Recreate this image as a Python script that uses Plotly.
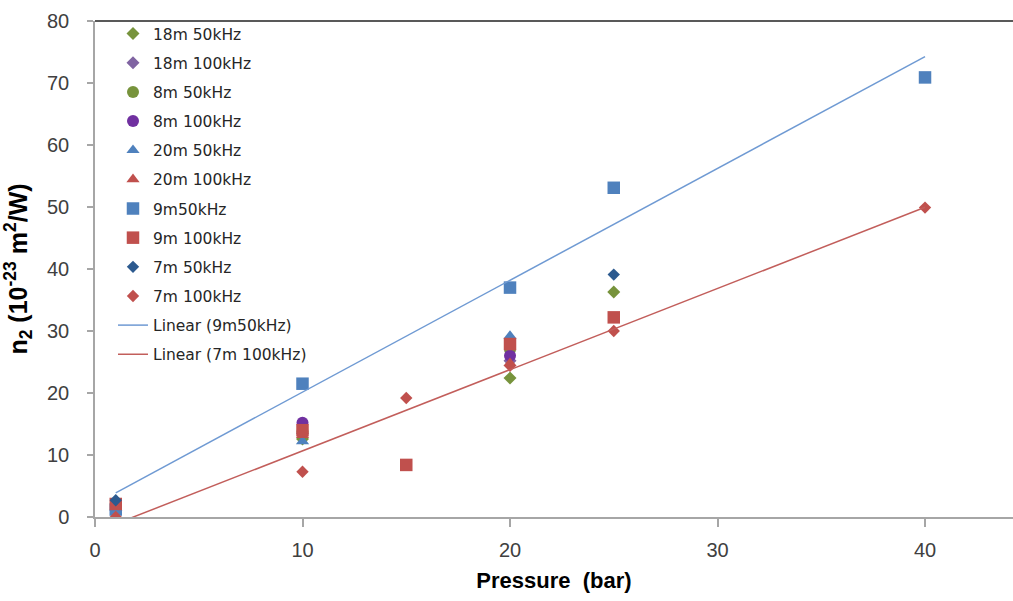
import numpy as np
import plotly.graph_objects as go

# Pressure (bar) and n2 (1e-23 m^2/W) for each fibre length / repetition rate
p_18m_50k = [10, 20, 25]
n2_18m_50k = [12.6, 22.4, 36.3]

p_18m_100k = [10, 20]
n2_18m_100k = [13.5, 25.2]

p_8m_50k = [10, 20]
n2_8m_50k = [13.8, 27.0]

p_8m_100k = [10, 20]
n2_8m_100k = [15.2, 26.0]

p_20m_50k = [1, 10, 20]
n2_20m_50k = [1.5, 12.2, 29.2]

p_20m_100k = [10, 20]
n2_20m_100k = [13.2, 24.8]

p_9m_50k = [1, 10, 20, 25, 40]
n2_9m_50k = [1.2, 21.5, 37.0, 53.1, 70.9]

p_9m_100k = [1, 10, 15, 20, 25]
n2_9m_100k = [2.1, 14.0, 8.4, 27.9, 32.2]

p_7m_50k = [1, 25]
n2_7m_50k = [2.7, 39.1]

p_7m_100k = [1, 10, 15, 20, 25, 40]
n2_7m_100k = [0.0, 7.3, 19.2, 24.4, 30.0, 49.9]

x_ticks = [0, 10, 20, 30, 40]
y_ticks = [0, 10, 20, 30, 40, 50, 60, 70, 80]

series = [
    ("18m 50kHz", p_18m_50k, n2_18m_50k, "diamond", 10, "#77933C"),
    ("18m 100kHz", p_18m_100k, n2_18m_100k, "diamond", 10, "#8064A2"),
    ("8m 50kHz", p_8m_50k, n2_8m_50k, "circle", 12, "#77933C"),
    ("8m 100kHz", p_8m_100k, n2_8m_100k, "circle", 12, "#7030A0"),
    ("20m 50kHz", p_20m_50k, n2_20m_50k, "triangle-up", 11.5, "#4F81BD"),
    ("20m 100kHz", p_20m_100k, n2_20m_100k, "triangle-up", 11.5, "#C0504D"),
    ("9m50kHz", p_9m_50k, n2_9m_50k, "square", 12.5, "#4F81BD"),
    ("9m 100kHz", p_9m_100k, n2_9m_100k, "square", 12.5, "#C0504D"),
    ("7m 50kHz", p_7m_50k, n2_7m_50k, "diamond", 9.5, "#2C5A8F"),
    ("7m 100kHz", p_7m_100k, n2_7m_100k, "diamond", 9.5, "#C0504D"),
]

fig = go.Figure()

for i, (name, xs, ys, sym, size, col) in enumerate(series):
    fig.add_trace(go.Scatter(
        x=xs, y=ys, mode="markers", name=name, legendgroup=f"g{i}",
        marker=dict(symbol=sym, size=size, color=col, line=dict(width=0)),
    ))

# Least-squares trend lines over the span of each fitted series
def linear_fit(xs, ys):
    slope, intercept = np.polyfit(xs, ys, 1)
    xf = np.array([min(xs), max(xs)], dtype=float)
    return xf, slope * xf + intercept

for j, (name, xs, ys, col) in enumerate([
    ("Linear (9m50kHz)", p_9m_50k, n2_9m_50k, "#6F9AD3"),
    ("Linear (7m 100kHz)", p_7m_100k, n2_7m_100k, "#C25E5B"),
]):
    xf, yf = linear_fit(xs, ys)
    fig.add_trace(go.Scatter(
        x=xf, y=yf, mode="lines", name=name, legendgroup=f"t{j}",
        line=dict(color=col, width=1.5),
    ))

axis_font = dict(family="Liberation Sans, Arial, sans-serif", size=20, color="#404040")
title_font = dict(family="Liberation Sans, Arial, sans-serif", size=22, color="#000000")

fig.update_layout(
    width=1013, height=601,
    margin=dict(l=95, r=0, t=21, b=84),
    plot_bgcolor="white", paper_bgcolor="white",
    showlegend=True,
    legend=dict(
        x=0.0196, y=1.008, xanchor="left", yanchor="top",
        font=dict(family="DejaVu Sans, sans-serif", size=15.5, color="#262626"),
        tracegroupgap=6, bgcolor="rgba(0,0,0,0)", maxheight=500,
    ),
    xaxis=dict(
        range=[0, 44.24], tickvals=x_ticks, ticks="outside", ticklen=8,
        tickcolor="#A6A6A6", tickwidth=1.5,
        showline=True, linecolor="#A6A6A6", linewidth=1.5,
        showgrid=False, zeroline=False, tickfont=axis_font,
        ticklabelstandoff=6,
        title=dict(text="<b>Pressure\u00a0\u00a0(bar)</b>", font=title_font, standoff=13),
    ),
    yaxis=dict(
        range=[0, 80], tickvals=y_ticks, ticks="outside", ticklen=6,
        tickcolor="#A6A6A6", tickwidth=1.5,
        showline=True, linecolor="#A6A6A6", linewidth=1.5,
        showgrid=False, zeroline=False, tickfont=axis_font,
        ticklabelstandoff=14,
        title=dict(text="<b>n<sub>2</sub> (10<sup>-23</sup> m<sup>2</sup>/W)</b>",
                   font=dict(family="Liberation Sans, Arial, sans-serif", size=25, color="#000000"),
                   standoff=14),
    ),
)

# Top border of the plot area
fig.add_shape(type="line", xref="paper", yref="paper", x0=0, x1=1, y0=1, y1=1,
              line=dict(color="#595959", width=2))

fig.write_html("out.html")
